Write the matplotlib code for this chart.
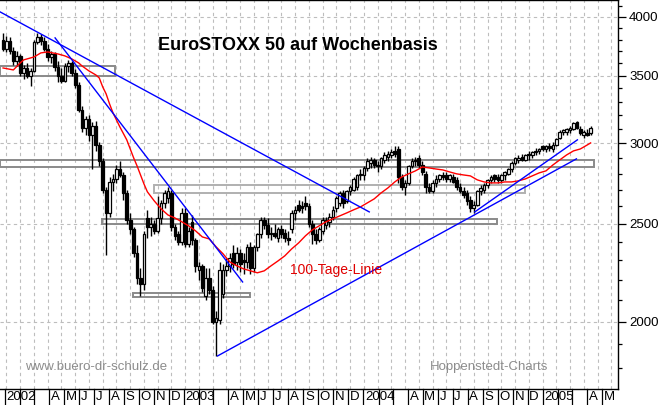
import numpy as np
import pandas as pd
import matplotlib
matplotlib.use("Agg")
import matplotlib.pyplot as plt
import matplotlib.dates as mdates
import matplotlib.transforms as mtransforms
from matplotlib.patches import Rectangle

plt.rcParams['font.family'] = ['Liberation Sans', 'DejaVu Sans']

# Wochenkerzen EuroSTOXX 50, erste Woche 28.12.2001
first_week = "2001-12-28"
opens = [3800, 3720, 3790, 3700, 3620, 3660, 3520, 3560, 3500, 3540,
         3780, 3820, 3790, 3720, 3650, 3680, 3570, 3500, 3460, 3580,
         3600, 3520, 3430, 3240, 3110, 3170, 3060, 3120, 2990, 2880,
         2700, 2560, 2750, 2770, 2830, 2790, 2680, 2520, 2470, 2340,
         2210, 2180, 2530, 2480, 2500, 2460, 2530, 2620, 2650, 2680,
         2480, 2440, 2400, 2560, 2390, 2510, 2410, 2250, 2270, 2120,
         2210, 2150, 2000, 2010, 2130, 2250, 2270, 2340, 2290, 2340,
         2300, 2290, 2370, 2260, 2370, 2440, 2520, 2490, 2440, 2450,
         2420, 2470, 2450, 2420, 2470, 2560, 2610, 2600, 2620, 2600,
         2500, 2440, 2410, 2460, 2490, 2510, 2540, 2590, 2620, 2680,
         2630, 2690, 2700, 2720, 2790, 2790, 2840, 2870, 2890, 2860,
         2850, 2890, 2910, 2920, 2950, 2960, 2780, 2720, 2740, 2850,
         2880, 2900, 2860, 2800, 2720, 2690, 2740, 2770, 2790, 2790,
         2770, 2780, 2760, 2720, 2690, 2680, 2640, 2590, 2610, 2690,
         2700, 2730, 2760, 2790, 2780, 2760, 2790, 2800, 2830, 2870,
         2890, 2910, 2890, 2920, 2920, 2940, 2950, 2980, 2960, 2980,
         2960, 2990, 3040, 3080, 3080, 3090, 3100, 3150, 3100, 3060,
         3070, 3070]
highs = [3860, 3830, 3820, 3740, 3700, 3680, 3590, 3600, 3560, 3800,
         3860, 3850, 3820, 3760, 3700, 3690, 3620, 3560, 3600, 3630,
         3620, 3550, 3450, 3270, 3190, 3200, 3150, 3160, 3010, 2900,
         2720, 2780, 2800, 2860, 2880, 2810, 2700, 2560, 2480, 2380,
         2260, 2460, 2580, 2540, 2520, 2660, 2640, 2700, 2720, 2700,
         2500, 2460, 2590, 2590, 2480, 2550, 2420, 2290, 2280, 2260,
         2260, 2170, 2050, 2290, 2280, 2310, 2340, 2380, 2370, 2360,
         2340, 2390, 2400, 2380, 2450, 2540, 2540, 2530, 2480, 2500,
         2480, 2490, 2470, 2460, 2580, 2600, 2640, 2630, 2660, 2620,
         2520, 2470, 2480, 2540, 2540, 2560, 2600, 2660, 2690, 2700,
         2700, 2730, 2780, 2800, 2830, 2850, 2900, 2910, 2900, 2880,
         2910, 2940, 2950, 2960, 2980, 2980, 2800, 2760, 2860, 2900,
         2910, 2920, 2880, 2820, 2740, 2760, 2790, 2800, 2810, 2810,
         2800, 2800, 2780, 2740, 2720, 2700, 2660, 2630, 2700, 2730,
         2740, 2770, 2790, 2800, 2800, 2800, 2820, 2840, 2880, 2910,
         2920, 2930, 2930, 2950, 2950, 2970, 2970, 2990, 2990, 3000,
         3010, 3040, 3090, 3100, 3110, 3120, 3150, 3160, 3120, 3090,
         3100, 3120]
lows = [3700, 3690, 3680, 3590, 3580, 3500, 3470, 3480, 3420, 3530,
        3760, 3750, 3700, 3620, 3600, 3540, 3450, 3440, 3450, 3530,
        3500, 3400, 3220, 3080, 3060, 3020, 2830, 2950, 2850, 2680,
        2330, 2540, 2690, 2740, 2780, 2640, 2500, 2440, 2320, 2180,
        2120, 2150, 2420, 2430, 2440, 2450, 2500, 2590, 2620, 2460,
        2410, 2380, 2380, 2370, 2370, 2380, 2240, 2200, 2140, 2100,
        2130, 1990, 1850, 1990, 2110, 2220, 2240, 2260, 2250, 2240,
        2230, 2260, 2230, 2240, 2350, 2420, 2470, 2420, 2410, 2420,
        2400, 2420, 2400, 2380, 2450, 2520, 2570, 2560, 2580, 2480,
        2390, 2390, 2400, 2440, 2470, 2480, 2520, 2570, 2600, 2590,
        2620, 2670, 2690, 2700, 2760, 2760, 2820, 2840, 2840, 2810,
        2830, 2870, 2880, 2900, 2910, 2740, 2700, 2670, 2730, 2840,
        2850, 2840, 2790, 2680, 2680, 2680, 2720, 2750, 2760, 2750,
        2750, 2740, 2700, 2680, 2650, 2610, 2570, 2560, 2600, 2670,
        2680, 2710, 2740, 2750, 2740, 2740, 2760, 2790, 2810, 2860,
        2870, 2880, 2880, 2890, 2900, 2920, 2930, 2950, 2940, 2950,
        2940, 2980, 3030, 3060, 3060, 3070, 3090, 3100, 3060, 3040,
        3050, 3060]
closes = [3720, 3790, 3700, 3620, 3660, 3520, 3560, 3500, 3540, 3780,
          3820, 3790, 3720, 3650, 3680, 3570, 3500, 3460, 3580, 3600,
          3520, 3430, 3240, 3110, 3170, 3060, 3120, 2990, 2880, 2700,
          2560, 2750, 2770, 2830, 2790, 2680, 2520, 2470, 2340, 2210,
          2180, 2440, 2480, 2500, 2460, 2530, 2620, 2680, 2690, 2480,
          2430, 2400, 2560, 2390, 2460, 2410, 2270, 2270, 2160, 2210,
          2150, 2000, 2020, 2250, 2250, 2270, 2310, 2280, 2340, 2280,
          2290, 2370, 2260, 2370, 2440, 2520, 2490, 2440, 2450, 2430,
          2470, 2440, 2420, 2410, 2560, 2580, 2580, 2590, 2600, 2500,
          2440, 2410, 2470, 2520, 2520, 2540, 2580, 2650, 2680, 2620,
          2690, 2720, 2770, 2790, 2800, 2840, 2880, 2890, 2860, 2850,
          2900, 2920, 2930, 2940, 2930, 2780, 2720, 2740, 2850, 2880,
          2890, 2860, 2810, 2720, 2690, 2740, 2770, 2790, 2780, 2770,
          2790, 2750, 2720, 2690, 2670, 2630, 2590, 2610, 2690, 2710,
          2730, 2760, 2780, 2770, 2760, 2790, 2810, 2830, 2870, 2900,
          2900, 2890, 2920, 2930, 2940, 2950, 2960, 2960, 2980, 2970,
          2990, 3030, 3080, 3090, 3100, 3110, 3140, 3110, 3070, 3080,
          3060, 3110]

# 100-Tage-Linie (Wochenindex, Wert)
ma_week = [0, 3, 5, 6, 9, 11, 13, 16, 18, 20, 22, 23, 25, 27, 28, 29, 30, 31, 32, 34,
           36, 38, 39, 41, 42, 44, 46, 48, 50, 52, 54, 56, 58, 60, 62, 64, 66, 68, 70, 72,
           74, 76, 78, 80, 82, 84, 86, 88, 90, 92, 94, 96, 98, 100, 102, 104, 106, 108, 110, 112,
           114, 116, 118, 120, 122, 124, 126, 128, 130, 132, 134, 136, 138, 140, 142, 144, 146, 148, 150, 152,
           154, 156, 158, 160, 162, 164, 166, 168, 170, 171]
ma_value = [3562, 3546, 3603, 3628, 3652, 3686, 3694, 3677, 3661, 3636,
            3603, 3578, 3538, 3506, 3482, 3412, 3358, 3282, 3216, 3115,
            3025, 2904, 2851, 2737, 2688, 2633, 2586, 2550, 2533, 2511,
            2488, 2460, 2426, 2415, 2372, 2335, 2292, 2272, 2256, 2246,
            2236, 2246, 2272, 2297, 2324, 2361, 2393, 2432, 2465, 2488,
            2511, 2528, 2545, 2562, 2580, 2597, 2621, 2645, 2681, 2712,
            2749, 2780, 2800, 2819, 2844, 2838, 2831, 2825, 2812, 2800,
            2793, 2787, 2762, 2749, 2743, 2743, 2749, 2749, 2756, 2768,
            2787, 2806, 2819, 2857, 2890, 2923, 2950, 2963, 2990, 3004]

# Trendlinien
tl_start = ["2001-12-22", "2002-04-13", "2003-03-10", "2004-08-15"]
tl_start_val = [4046, 3814, 1851, 2568]
tl_end = ["2004-01-13", "2003-04-30", "2005-03-10", "2005-03-12"]
tl_end_val = [2568, 2190, 2897, 3025]

# Unterstuetzungs-/Widerstandszonen
box_from = ["2001-12-22", "2001-12-22", "2002-10-31", "2002-07-17", "2002-09-19"]
box_to = ["2002-08-13", "2005-04-15", "2004-11-25", "2004-09-29", "2003-05-15"]
box_low = [3500, 2842, 2681, 2499, 2117]
box_high = [3578, 2887, 2731, 2528, 2136]

y_major = [2000, 2500, 3000, 3500, 4000]
month_letters = ["J", "F", "M", "A", "M", "J", "J", "A", "S", "O", "N", "D"]

weeks = pd.date_range(first_week, periods=len(closes), freq="7D")
xw = mdates.date2num(weeks)

W, H = 658, 405
fig = plt.figure(figsize=(W / 100, H / 100), dpi=100)
ax = fig.add_axes([0, 16 / H, 618 / W, 389 / H])
ax.set_yscale("log")
x_left = mdates.date2num(pd.Timestamp("2001-12-21 19:00"))
ax.set_xlim(x_left, x_left + 618 / 0.4909)
ax.set_ylim(1717, 4157)

# Gitter
grid_days = pd.date_range(weeks[1], periods=46, freq="28D")
for d in mdates.date2num(grid_days):
    ax.axvline(d, color="#bdbdbd", lw=0.8, ls=(0, (3, 3)), zorder=0)
for v in y_major:
    ax.axhline(v, color="#bdbdbd", lw=0.8, ls=(0, (3, 3)), zorder=0)

# Kerzen
o = np.array(opens, float)
c = np.array(closes, float)
ax.vlines(xw, lows, highs, color="black", lw=1.0, zorder=3)
up = c >= o
ax.bar(xw[up], (c - o)[up], bottom=o[up], width=5.5, color="white",
       edgecolor="black", linewidth=0.9, zorder=4)
ax.bar(xw[~up], (o - c)[~up], bottom=c[~up], width=5.5, color="black",
       edgecolor="black", linewidth=0.9, zorder=4)

# Zonen
box_cols = ["#8a8a8a", "#8a8a8a", "#b0b0b0", "#8a8a8a", "#8a8a8a"]
for i in range(len(box_low)):
    x0 = mdates.date2num(pd.Timestamp(box_from[i]))
    x1 = mdates.date2num(pd.Timestamp(box_to[i]))
    ax.add_patch(Rectangle((x0, box_low[i]), x1 - x0, box_high[i] - box_low[i],
                           fill=False, edgecolor=box_cols[i], lw=1.4, zorder=2))

# 100-Tage-Linie
ax.plot(xw[ma_week], ma_value, color="#ff0000", lw=1.0, zorder=5)

# Trendlinien
for i in range(len(tl_start)):
    ax.plot(mdates.date2num([pd.Timestamp(tl_start[i]), pd.Timestamp(tl_end[i])]),
            [tl_start_val[i], tl_end_val[i]], color="#0000ff", lw=1.0, zorder=5)

# Achsen
ax.spines["left"].set_visible(False)
for s in ["top", "right", "bottom"]:
    ax.spines[s].set_color("black")
    ax.spines[s].set_linewidth(1.0)
ax.set_xticks([])
ax.yaxis.tick_right()
ax.set_yticks(y_major)
ax.set_yticklabels([str(v) for v in y_major])
ax.set_yticks([v for v in range(1800, 4200, 100) if v not in y_major], minor=True)
ax.yaxis.set_minor_formatter(matplotlib.ticker.NullFormatter())
ax.tick_params(axis="y", which="major", length=6, width=0.9, labelsize=9.5, pad=2)
ax.tick_params(axis="y", which="minor", length=3, width=0.9)

# Monatsleiste unten
trans = mtransforms.blended_transform_factory(ax.transData, fig.transFigure)
trans_txt = mtransforms.offset_copy(trans, fig=fig, x=1.5, y=0, units="dots")
months = pd.date_range("2001-12-01", "2005-05-01", freq="MS")
for m in months:
    mx = mdates.date2num(m)
    ax.plot([mx, mx], [0, 16 / H], transform=trans, color="black", lw=0.9, clip_on=False)
    if m.month == 1:
        lab = str(m.year)
    elif m.month in (2, 3):
        lab = ""
    else:
        lab = month_letters[m.month - 1]
    if lab:
        ax.text(mx, 7.5 / H, lab, transform=trans_txt, fontsize=9.5,
                ha="left", va="center", clip_on=False)

# Texte
fig.text(298 / W, 1 - 45 / H, "EuroSTOXX 50 auf Wochenbasis", ha="center", va="center",
         fontsize=13, fontweight="bold")
fig.text(290 / W, 1 - 270 / H, "100-Tage-Linie", color="#e00000", fontsize=10,
         ha="left", va="center")
fig.text(25 / W, 1 - 367 / H, "www.buero-dr-schulz.de", color="#8c8c8c", fontsize=9.5,
         ha="left", va="center")
fig.text(430 / W, 1 - 367 / H, "Hoppenstedt-Charts", color="#8c8c8c", fontsize=9.5,
         ha="left", va="center")

fig.savefig("out.png", dpi=100)
